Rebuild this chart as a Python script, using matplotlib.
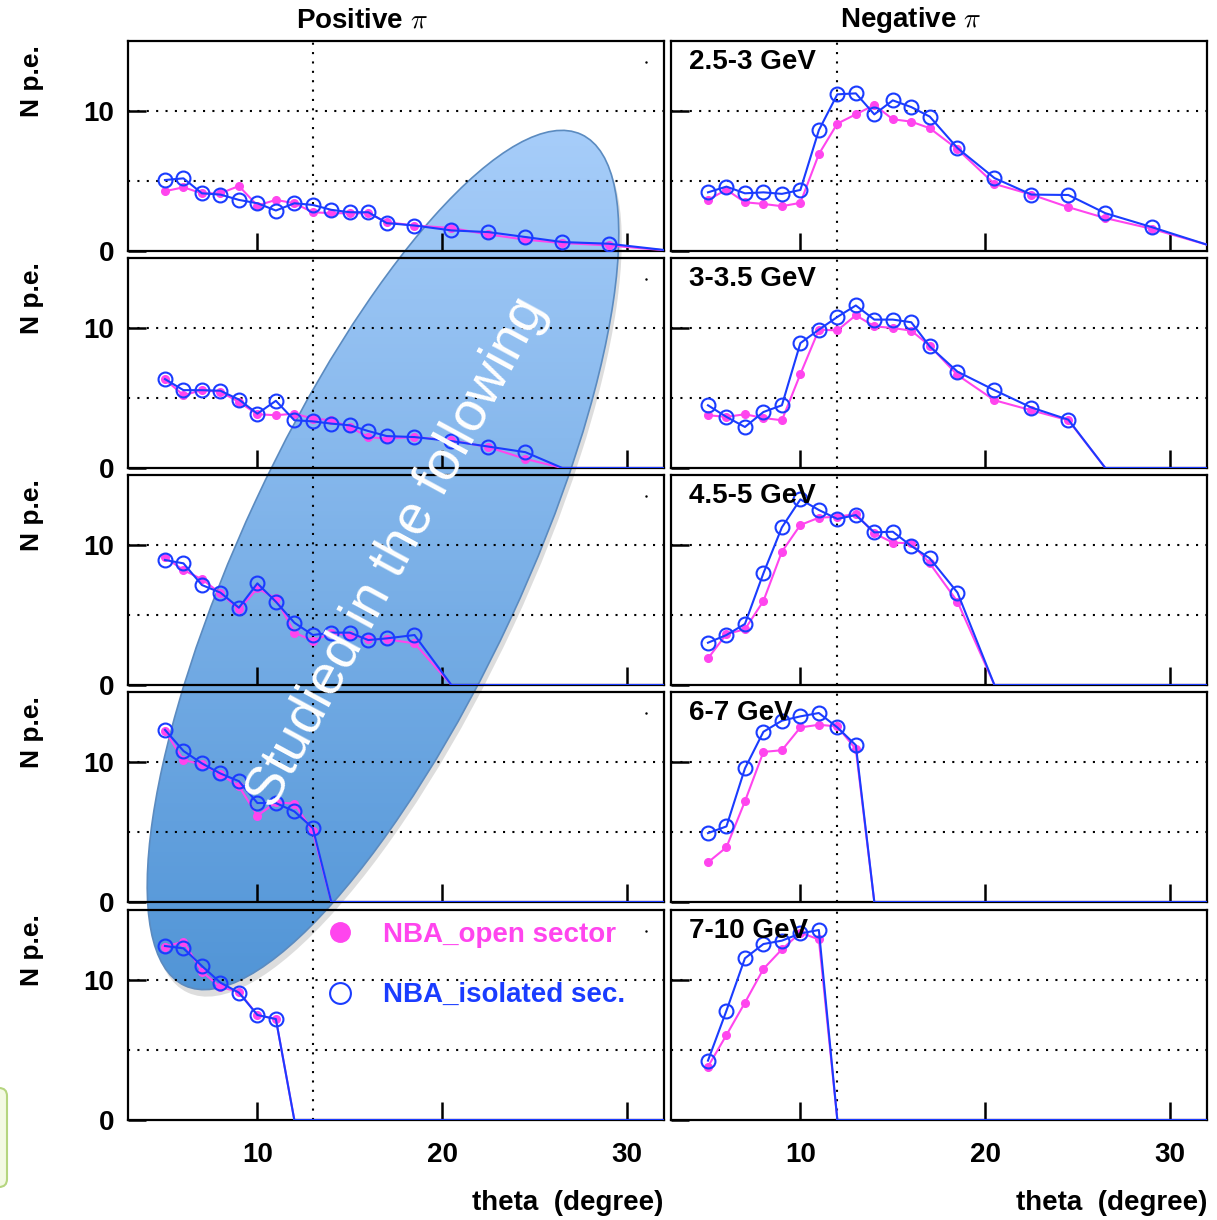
import numpy as np
import matplotlib.pyplot as plt
from matplotlib.patches import Ellipse, FancyBboxPatch
from matplotlib.lines import Line2D

plt.rcParams['font.family'] = ['Liberation Sans', 'DejaVu Sans']
plt.rcParams['mathtext.fontset'] = 'cm'

theta = [5, 6, 7, 8, 9, 10, 11, 12, 13, 14, 15, 16, 17, 18.5, 20.5, 22.5, 24.5, 26.5, 29, 32.5]

bins = ['2.5-3 GeV', '3-3.5 GeV', '4.5-5 GeV', '6-7 GeV', '7-10 GeV']

# positive pi
pos_open = [
    [4.27, 4.55, 4.12, 4.12, 4.64, 3.25, 3.65, 3.41, 2.77, 2.70, 2.70, 2.70, 2.06, 1.82, 1.64, 1.18, 0.81, 0.57, 0.40, 0],
    [6.33, 5.20, 5.56, 5.44, 4.72, 3.84, 3.77, 3.88, 3.53, 3.41, 2.93, 2.21, 2.09, 2.21, 1.97, 1.49, 0.65, 0, 0, 0],
    [9.12, 8.21, 7.55, 6.55, 5.40, 6.90, 6.19, 3.74, 3.17, 3.69, 3.57, 3.26, 3.26, 2.98, 0, 0, 0, 0, 0, 0],
    [12.23, 10.14, 9.83, 9.11, 8.27, 6.16, 7.12, 7.03, 5.04, 0, 0, 0, 0, 0, 0, 0, 0, 0, 0, 0],
    [12.38, 12.74, 10.6, 9.48, 9.17, 7.5, 7.21, 0, 0, 0, 0, 0, 0, 0, 0, 0, 0, 0, 0, 0],
]
pos_iso = [
    [5.07, 5.19, 4.12, 4.03, 3.65, 3.41, 2.89, 3.41, 3.29, 2.94, 2.77, 2.77, 1.99, 1.82, 1.47, 1.35, 1.00, 0.64, 0.52, 0],
    [6.35, 5.56, 5.56, 5.52, 4.89, 3.88, 4.80, 3.41, 3.33, 3.17, 3.05, 2.64, 2.28, 2.21, 1.92, 1.53, 1.13, 0, 0, 0],
    [8.93, 8.69, 7.14, 6.60, 5.52, 7.26, 5.95, 4.45, 3.57, 3.74, 3.74, 3.21, 3.33, 3.57, 0, 0, 0, 0, 0, 0],
    [12.30, 10.79, 9.90, 9.18, 8.63, 7.07, 7.07, 6.47, 5.28, 0, 0, 0, 0, 0, 0, 0, 0, 0, 0, 0],
    [12.43, 12.26, 11.0, 9.81, 9.10, 7.5, 7.21, 0, 0, 0, 0, 0, 0, 0, 0, 0, 0, 0, 0, 0],
]

# negative pi
neg_open = [
    [3.65, 4.38, 3.48, 3.36, 3.20, 3.44, 6.92, 9.10, 9.76, 10.43, 9.41, 9.24, 8.77, 7.27, 4.79, 4.03, 3.13, 2.35, 1.59, 0.26],
    [3.77, 3.65, 3.84, 3.57, 3.41, 6.71, 9.88, 9.83, 10.91, 10.12, 10.0, 9.81, 8.73, 6.64, 4.84, 4.12, 3.41, 0, 0, 0],
    [1.90, 3.64, 3.98, 6.0, 9.52, 11.43, 11.95, 12.02, 12.21, 10.83, 10.17, 10.12, 8.69, 5.95, 0, 0, 0, 0, 0, 0],
    [2.83, 3.91, 7.19, 10.72, 10.84, 12.47, 12.66, 12.54, 10.91, 0, 0, 0, 0, 0, 0, 0, 0, 0, 0, 0],
    [3.81, 6.07, 8.38, 10.79, 12.19, 13.38, 12.90, 0, 0, 0, 0, 0, 0, 0, 0, 0, 0, 0, 0, 0],
]
neg_iso = [
    [4.19, 4.60, 4.12, 4.19, 4.08, 4.36, 8.63, 11.19, 11.26, 9.76, 10.76, 10.28, 9.60, 7.35, 5.21, 4.03, 4.00, 2.70, 1.71, 0.24],
    [4.48, 3.65, 2.93, 4.00, 4.48, 8.92, 9.88, 10.79, 11.61, 10.60, 10.60, 10.41, 8.68, 6.88, 5.56, 4.32, 3.45, 0, 0, 0],
    [3.02, 3.57, 4.36, 7.98, 11.26, 13.26, 12.5, 11.86, 12.14, 10.90, 10.95, 9.93, 9.05, 6.60, 0, 0, 0, 0, 0, 0],
    [4.92, 5.40, 9.54, 12.16, 12.95, 13.26, 13.50, 12.47, 11.20, 0, 0, 0, 0, 0, 0, 0, 0, 0, 0, 0],
    [4.24, 7.81, 11.55, 12.57, 12.81, 13.33, 13.57, 0, 0, 0, 0, 0, 0, 0, 0, 0, 0, 0, 0, 0],
]

# dotted vertical reference line per column
vline = [13, 12]

pink = '#ff45ee'
blue = '#1a3cff'

W, H = 1217, 1220
fig = plt.figure(figsize=(W / 100, H / 100), dpi=100, facecolor='white')

col_x = [128, 671]
col_w = 536
row_top = [41, 258, 475, 692, 910]
row_h = 210

# background layer with the highlight ellipse
bg = fig.add_axes([0, 0, 1, 1], zorder=-1)
cx, cy = 383, H - 560
shadow = Ellipse((cx + 3, cy - 7), 939, 281, angle=65, fc='#909090', ec='none', alpha=0.3, zorder=0)
bg.add_patch(shadow)
ell = Ellipse((cx, cy), 939, 281, angle=65, fc='none', ec='#5b8bc0', lw=1.2, zorder=3)
bg.add_patch(ell)
t = np.linspace(0, 1, 256)[:, None]
c_top = np.array([168, 206, 250]) / 255
c_bot = np.array([80, 148, 214]) / 255
img = (c_top * (1 - t[:, :, None]) + c_bot * t[:, :, None])
im = bg.imshow(img, extent=[cx - 250, cx + 250, cy - 445, cy + 445], origin='upper',
               aspect='auto', zorder=2)
im.set_clip_path(ell)
bg.set_xlim(0, W)
bg.set_ylim(0, H)
bg.axis('off')

for c, (opens, isos) in enumerate([(pos_open, pos_iso), (neg_open, neg_iso)]):
    for r in range(5):
        ax = fig.add_axes([col_x[c] / W, 1 - (row_top[r] + row_h) / H, col_w / W, row_h / H])
        ax.set_facecolor('none')
        ax.set_xlim(3, 32)
        ax.set_ylim(0, 15)
        for y in [5, 10]:
            ax.axhline(y, color='black', lw=1.5, ls=(0, (1, 3.5)), zorder=1)
        ax.axvline(vline[c], color='black', lw=1.5, ls=(0, (1, 3.5)), zorder=1)

        yo = opens[r]
        yi = isos[r]
        mk_o = [i for i, v in enumerate(yo) if v > 0 and theta[i] < 32]
        mk_i = [i for i, v in enumerate(yi) if v > 0 and theta[i] < 32]
        ax.plot(theta, yo, color=pink, lw=1.5, marker='o', ms=5.5, mec=pink, mfc=pink,
                markevery=mk_o, zorder=3)
        ax.plot(theta, yi, color=blue, lw=1.5, marker='o', ms=10, mfc='none', mec=blue, mew=1.5,
                markevery=mk_i, zorder=4)

        ax.set_xticks([10, 20, 30])
        ax.set_yticks([0, 10])
        ax.tick_params(direction='in', length=13, width=1.8, labelsize=20, pad=10)
        ax.tick_params(axis='x', pad=16)
        for lab in ax.get_xticklabels() + ax.get_yticklabels():
            lab.set_fontweight('bold')
        if r < 4:
            ax.tick_params(labelbottom=False)
        if c == 1:
            ax.tick_params(labelleft=False)
            ax.text(0.034, 0.9, bins[r], transform=ax.transAxes, fontsize=20, fontweight='bold',
                    va='center', ha='left', zorder=6)
        else:
            ax.plot([0.966], [0.9], 'k.', ms=1.5, transform=ax.transAxes)
            fig.text(32 / W, 1 - (row_top[r] + 40) / H, 'N p.e.', rotation=90, ha='center',
                     va='center', fontsize=19, fontweight='bold')
        for s in ax.spines.values():
            s.set_linewidth(1.6)

        if c == 0 and r == 4:
            handles = [Line2D([], [], ls='none', marker='o', ms=14, color=pink),
                       Line2D([], [], ls='none', marker='o', ms=15, mfc='none', mec=blue, mew=1.5)]
            ax.legend(handles, ['NBA_open sector', 'NBA_isolated sec.'], loc='upper left',
                      bbox_to_anchor=(0.37, 0.945), frameon=False,
                      labelcolor=[pink, blue], handlelength=1.0, handletextpad=1.05,
                      labelspacing=1.25, borderpad=0, borderaxespad=0,
                      prop={'weight': 'bold', 'size': 20})

    fig.text((663 if c == 0 else 1207) / W, 1 - 1203 / H, 'theta  (degree)', ha='right',
             va='center', fontsize=20, fontweight='bold')

fig.text(362 / W, 1 - 20 / H, r'Positive $\pi$', ha='center', va='center', fontsize=20, fontweight='bold')
fig.text(911 / W, 1 - 20 / H, r'Negative $\pi$', ha='center', va='center', fontsize=20, fontweight='bold')

# overlay text and the partial green box
top = fig.add_axes([0, 0, 1, 1], zorder=10)
top.set_xlim(0, W)
top.set_ylim(0, H)
top.axis('off')
top.text(397, H - 553, 'Studied in the following', rotation=61.5, rotation_mode='anchor',
         ha='center', va='center', color='white', fontsize=40)
top.add_patch(FancyBboxPatch((-30, H - 1187), 37, 99, boxstyle='round,pad=0,rounding_size=8',
                             fc='#f3f9e3', ec='#b5d57f', lw=1.5, clip_on=False))

fig.savefig('out.png', dpi=100)
